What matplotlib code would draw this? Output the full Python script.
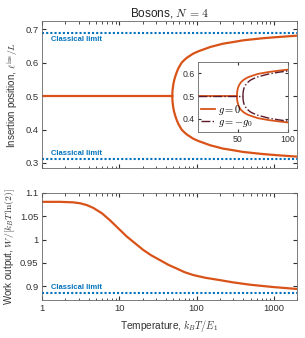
import matplotlib
matplotlib.use("Agg")
from matplotlib import pyplot as plt
import numpy as np

plt.rcParams["font.family"] = ["Liberation Sans", "DejaVu Sans"]
plt.rcParams["mathtext.fontset"] = "cm"
plt.rcParams["font.size"] = 7

orange = "#D95319"
blue = "#0072BD"
dark = "#5a1a2a"
grey = "#333333"

# top panel: insertion position vs temperature
T_flat = [1, 48.5]
pos_flat = [0.5, 0.5]
T_branch = [48.5, 48.7, 49, 49.5, 50, 51, 52.5, 55, 58, 64, 70, 75, 90, 105, 150, 220, 300, 400, 700, 1000, 2000]
pos_upper = [0.5, 0.513, 0.52, 0.528, 0.535, 0.545, 0.556, 0.57, 0.583, 0.6, 0.609, 0.615, 0.627, 0.634,
             0.647, 0.657, 0.662, 0.667, 0.673, 0.676, 0.681]
classical_pos = [0.688, 0.312]

# inset
Ti_flat0 = [10, 49]
Ti_br0 = [49, 49.1, 49.3, 49.6, 50, 50.5, 51, 52, 53, 54.5, 56, 58, 60, 65, 70, 75, 80, 90, 100]
pi_br0 = [0.5, 0.51, 0.52, 0.528, 0.535, 0.541, 0.547, 0.554, 0.561, 0.567, 0.573, 0.578, 0.583, 0.591,
          0.598, 0.602, 0.606, 0.612, 0.617]
Ti_flat1 = [10, 55]
Ti_br1 = [55, 55.1, 55.3, 55.6, 56, 56.5, 57, 58, 59, 60.5, 62, 64, 66, 70, 75, 80, 90, 100]
pi_br1 = [0.5, 0.51, 0.52, 0.527, 0.534, 0.54, 0.545, 0.551, 0.557, 0.563, 0.569, 0.574, 0.578, 0.585,
          0.591, 0.597, 0.605, 0.611]

# bottom panel: work output
T_work = [1, 1.7, 2.5, 3.1, 3.8, 4.6, 6, 7.5, 10, 12.4, 16, 20.3, 26, 33.5, 43, 55, 70, 90, 130, 200,
          300, 500, 1000, 2000]
work = [1.081, 1.081, 1.080, 1.078, 1.074, 1.068, 1.056, 1.042, 1.022, 1.007, 0.992, 0.978, 0.966, 0.956,
        0.946, 0.938, 0.930, 0.924, 0.918, 0.913, 0.908, 0.903, 0.898, 0.894]
classical_work = 0.886

fig = plt.figure(figsize=(3.05, 3.38), dpi=100)
ax1 = fig.add_axes([0.138, 0.503, 0.836, 0.435])
ax2 = fig.add_axes([0.138, 0.112, 0.836, 0.317])

ax1.plot(T_flat, pos_flat, color=orange, lw=1.6)
ax1.plot(T_branch, pos_upper, color=orange, lw=1.6)
ax1.plot(T_branch, [1 - p for p in pos_upper], color=orange, lw=1.6)
for c in classical_pos:
    ax1.axhline(c, color=blue, ls=(0, (1, 1)), lw=1.5)
ax1.text(1.3, 0.680, "Classical limit", color=blue, fontsize=5.5, fontweight="bold", va="top")
ax1.text(1.3, 0.318, "Classical limit", color=blue, fontsize=5.5, fontweight="bold", va="bottom")
ax1.set_xscale("log")
ax1.set_xlim(1, 2000)
ax1.set_ylim(0.285, 0.725)
ax1.set_yticks([0.3, 0.4, 0.5, 0.6, 0.7])
ax1.set_xticklabels([])
ax1.set_ylabel(r"Insertion position, $\ell^{\rm ins}/L$", color=grey, fontsize=7, labelpad=3)
ax1.set_title(r"Bosons, $N\,=\,4$", fontsize=8.5, pad=3, color="#222222")

ax2.plot(T_work, work, color=orange, lw=1.6)
ax2.axhline(classical_work, color=blue, ls=(0, (1, 1)), lw=1.5)
ax2.text(1.3, 0.889, "Classical limit", color=blue, fontsize=5.5, fontweight="bold", va="bottom")
ax2.set_xscale("log")
ax2.set_xlim(1, 2000)
ax2.set_ylim(0.87, 1.1)
ax2.set_yticks([0.9, 0.95, 1.0, 1.05, 1.1])
ax2.set_yticklabels(["0.9", "0.95", "1", "1.05", "1.1"])
ax2.set_xticks([1, 10, 100, 1000])
ax2.set_xticklabels(["1", "10", "100", "1000"])
ax2.set_xlabel(r"Temperature, $k_BT/E_1$", color=grey, fontsize=7.3, labelpad=4)
ax2.set_ylabel(r"Work output, $W/[k_BT\,\ln(2)]$", color=grey, fontsize=7, labelpad=2)

for ax in (ax1, ax2):
    ax.tick_params(which="both", direction="in", top=True, right=True, colors=grey, labelsize=6.8)
    ax.tick_params(which="major", length=3, pad=2.5)
    ax.tick_params(which="minor", length=1.8)
    for s in ax.spines.values():
        s.set_color("#666666")
        s.set_linewidth(0.6)

axi = fig.add_axes([0.649, 0.609, 0.295, 0.207])
axi.plot(Ti_flat0, [0.5, 0.5], color=orange, lw=1.3, label=r"$g=0$")
axi.plot(Ti_br0, pi_br0, color=orange, lw=1.3)
axi.plot(Ti_br0, [1 - p for p in pi_br0], color=orange, lw=1.3)
axi.plot(Ti_flat1, [0.5, 0.5], color=dark, lw=1.0, ls="-.", label=r"$g=-g_0$")
axi.plot(Ti_br1, pi_br1, color=dark, lw=1.0, ls="-.")
axi.plot(Ti_br1, [1 - p for p in pi_br1], color=dark, lw=1.0, ls="-.")
axi.set_xlim(10, 100)
axi.set_ylim(0.34, 0.65)
axi.set_xticks([50, 100])
axi.set_yticks([0.4, 0.5, 0.6])
axi.tick_params(direction="in", top=True, right=True, length=2.5, labelsize=6.3, colors=grey, pad=2)
for s in axi.spines.values():
    s.set_color("#666666")
    s.set_linewidth(0.6)
axi.legend(loc="lower left", frameon=False, fontsize=7.5, handlelength=1.3, handletextpad=0.3,
           labelspacing=0.05, borderpad=0.2, borderaxespad=0.1)

fig.savefig("out.png", dpi=100)
